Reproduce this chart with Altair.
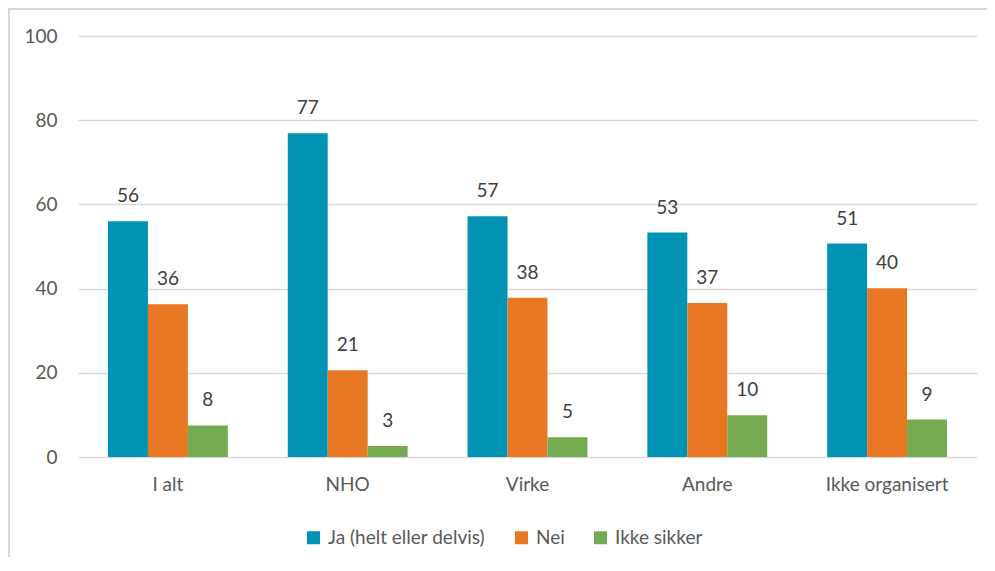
import altair as alt
import pandas as pd

categories = ["I alt", "NHO", "Virke", "Andre", "Ikke organisert"]
series = ["Ja (helt eller delvis)", "Nei", "Ikke sikker"]
ja = [56.0, 76.9, 57.2, 53.3, 50.7]
nei = [36.3, 20.6, 37.8, 36.6, 40.1]
ikke = [7.5, 2.6, 4.7, 9.9, 8.9]
colors = ["#0093b4", "#e77722", "#75ab50"]
y_ticks = [0, 20, 40, 60, 80, 100]

rows = []
for i, c in enumerate(categories):
    for s, vals in zip(series, [ja, nei, ikke]):
        rows.append({"kategori": c, "serie": s, "verdi": vals[i],
                     "etikett": str(int(vals[i] + 0.5))})
df = pd.DataFrame(rows)

FONT = "Lato"
FS = 19

x = alt.X("kategori:N", sort=categories, title=None,
          scale=alt.Scale(paddingInner=1/3, paddingOuter=1/6),
          axis=alt.Axis(labelAngle=0, ticks=False, domain=False, grid=False,
                        labelPadding=18,
                        labelFontSize=FS, labelColor="#595959", labelFont=FONT))
xoff = alt.XOffset("serie:N", sort=series, scale=alt.Scale(paddingInner=0, paddingOuter=0))
y = alt.Y("verdi:Q", title=None,
          scale=alt.Scale(domain=[0, 100], nice=False),
          axis=alt.Axis(values=y_ticks, ticks=False, domain=False, labelPadding=21,
                        labelFontSize=FS, labelColor="#595959", labelFont=FONT,
                        gridColor="#d9d9d9", gridWidth=1.5))
color = alt.Color("serie:N", sort=series, title=None,
                  scale=alt.Scale(domain=series, range=colors),
                  legend=alt.Legend(orient="none", direction="horizontal",
                                    legendX=226, legendY=492,
                                    symbolType="square", symbolSize=169,
                                    symbolStrokeWidth=0,
                                    labelFontSize=FS, labelColor="#595959",
                                    labelFont=FONT, labelOffset=5,
                                    columnPadding=26))

base = alt.Chart(df)
bars = base.mark_bar().encode(x=x, xOffset=xoff, y=y, color=color)
labels = base.mark_text(baseline="alphabetic", dy=-19, fontSize=FS,
                        color="#404040", font=FONT).encode(
    x=x, xOffset=xoff, y=y, text="etikett:N")

border_df = pd.DataFrame({"k": [0]})
top_line = alt.Chart(border_df).mark_rule(color="#d9d9d9", strokeWidth=2).encode(
    x=alt.value(-70), x2=alt.value(920), y=alt.value(-27))
left_line = alt.Chart(border_df).mark_rule(color="#d9d9d9", strokeWidth=2).encode(
    x=alt.value(-69), y=alt.value(-28), y2=alt.value(560))

chart = alt.layer(bars, labels, top_line, left_line).properties(
    width=899, height=421,
    autosize=alt.AutoSizeParams(type="none"),
    padding={"left": 70, "top": 28, "right": 10, "bottom": 100},
    background="white",
).configure_view(stroke="transparent", strokeWidth=0)

chart.save("out.html", embed_options={"renderer": "svg", "actions": False})
